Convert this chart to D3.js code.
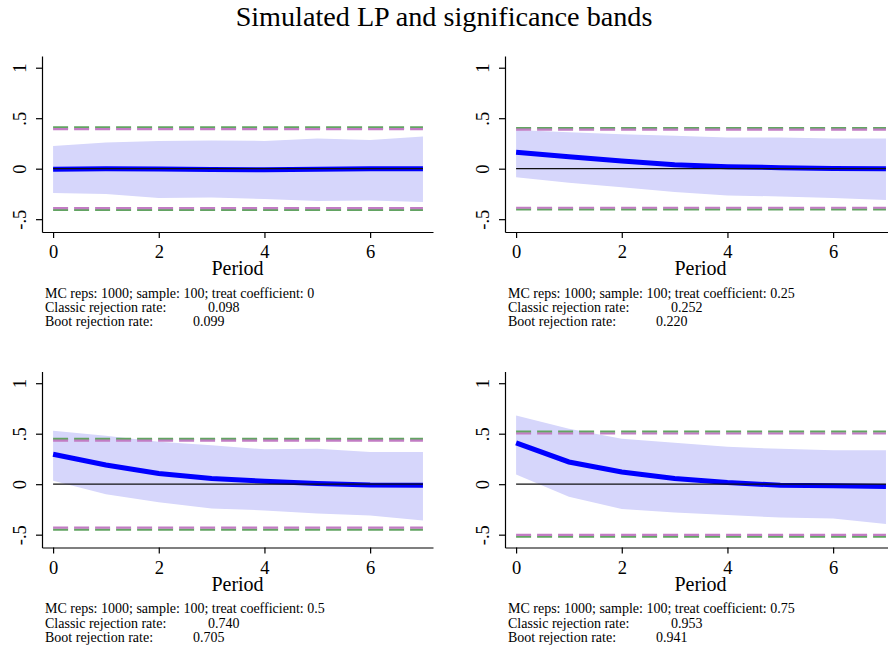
<!DOCTYPE html>
<html><head><meta charset="utf-8">
<script src="https://cdn.jsdelivr.net/npm/d3@7"></script>
<style>body{margin:0;background:#fff} svg{display:block} text{font-family:"Liberation Serif","Times New Roman",serif;fill:#000}</style>
</head><body><svg id="c" width="888" height="650"></svg>
<script>
const periods=[0,1,2,3,4,5,6,7];
const treatCoefs=["0","0.25","0.5","0.75"];
const lp_0=[-0.005,0.0,-0.004,-0.008,-0.01,-0.006,0.0,0.0];
const lp_25=[0.162,0.118,0.076,0.038,0.02,0.01,0.003,0.0];
const lp_50=[0.296,0.19,0.105,0.056,0.03,0.007,-0.008,-0.01];
const lp_75=[0.41,0.22,0.12,0.056,0.016,-0.01,-0.016,-0.023];
const upper_0=[0.225,0.26,0.275,0.28,0.275,0.30,0.285,0.32];
const lower_0=[-0.24,-0.25,-0.29,-0.285,-0.30,-0.32,-0.315,-0.33];
const upper_25=[0.384,0.36,0.34,0.325,0.31,0.31,0.30,0.30];
const lower_25=[-0.086,-0.14,-0.185,-0.23,-0.265,-0.275,-0.29,-0.31];
const upper_50=[0.53,0.48,0.42,0.385,0.345,0.35,0.32,0.32];
const lower_50=[0.033,-0.10,-0.18,-0.24,-0.26,-0.29,-0.31,-0.36];
const upper_75=[0.68,0.55,0.45,0.41,0.37,0.35,0.335,0.335];
const lower_75=[0.095,-0.125,-0.245,-0.28,-0.305,-0.33,-0.34,-0.395];
const classicCrit=[0.409,0.403,0.449,0.52];
const bootCrit=[0.391,0.387,0.431,0.502];
const classicRate=["0.098","0.252","0.740","0.953"];
const bootRate=["0.099","0.220","0.705","0.941"];
const xTickValues=[0,2,4,6];
const yTickValues=[-0.5,0,0.5,1];
const yTickLabels=["-.5","0",".5","1"];
const titleText="Simulated LP and significance bands";

const lps=[lp_0,lp_25,lp_50,lp_75];
const uppers=[upper_0,upper_25,upper_50,upper_75];
const lowers=[lower_0,lower_25,lower_50,lower_75];

const svg=d3.select("#c");
svg.append("rect").attr("width",888).attr("height",650).attr("fill","#fff");

function fitText(sel,target,start){
  sel.attr("font-size",start);
  const w=sel.node().getComputedTextLength();
  sel.attr("font-size",start*target/w);
  return start*target/w;
}

const title=svg.append("text").attr("x",444).attr("y",26).attr("text-anchor","middle").text(titleText);
fitText(title,417,23);

const layout=[{ox:0,oy:0},{ox:463,oy:0},{ox:0,oy:315.5},{ox:463,oy:315.5}];

const noteSize=14;

layout.forEach((p,i)=>{
  const g=svg.append("g");
  const x=d3.scaleLinear().domain([-0.21,7.19]).range([p.ox+42,p.ox+433]);
  const y=d3.scaleLinear().domain([-0.627,1.116]).range([p.oy+232,p.oy+56]);
  const rows=periods.map((t,k)=>({t,lp:lps[i][k],u:uppers[i][k],l:lowers[i][k]}));

  g.append("path").datum(rows).attr("fill","#d6d6fb")
    .attr("d",d3.area().x(d=>x(d.t)).y0(d=>y(d.l)).y1(d=>y(d.u)));

  [[classicCrit[i],"#62a462"],[bootCrit[i],"#c27cc4"]].forEach(([c,col])=>{
    [c,-c].forEach(v=>{
      g.append("line").attr("x1",x(0)).attr("x2",x(7)).attr("y1",y(v)).attr("y2",y(v))
        .attr("stroke",col).attr("stroke-width",2.2).attr("stroke-dasharray","15,6");
    });
  });

  g.append("path").datum(rows).attr("fill","none").attr("stroke","#0000ff").attr("stroke-width",5)
    .attr("d",d3.line().x(d=>x(d.t)).y(d=>y(d.lp)));

  g.append("line").attr("x1",x(0)).attr("x2",x(7)).attr("y1",y(0)).attr("y2",y(0))
    .attr("stroke","#111").attr("stroke-width",1.3);

  const ya=g.append("g").attr("transform",`translate(${p.ox+42},0)`)
    .call(d3.axisLeft(y).tickValues(yTickValues).tickFormat((d,k)=>yTickLabels[k]).tickSize(6).tickSizeOuter(0));
  ya.select(".domain").attr("stroke-width",1.2);
  ya.selectAll(".tick line").attr("stroke-width",1.2);
  ya.selectAll("text").attr("x",null).attr("dy",null).attr("font-size",18.5).attr("font-family",null)
    .attr("text-anchor","middle").attr("transform","translate(-16,0) rotate(-90)");

  const xa=g.append("g").attr("transform",`translate(0,${p.oy+232})`)
    .call(d3.axisBottom(x).tickValues(xTickValues).tickFormat(d3.format("d")).tickSize(6).tickSizeOuter(0));
  xa.select(".domain").attr("stroke-width",1.2);
  xa.selectAll(".tick line").attr("stroke-width",1.2);
  xa.selectAll("text").attr("y",26).attr("dy",null).attr("font-size",18.5).attr("font-family",null);

  const r=x.range();
  g.append("text").attr("x",(r[0]+r[1])/2).attr("y",p.oy+275).attr("text-anchor","middle")
    .attr("font-size",20).text("Period");

  const lx=p.ox+45;
  const note=g.append("text").attr("font-size",noteSize);
  note.append("tspan").attr("x",lx).attr("y",p.oy+297.5)
    .text("MC reps: 1000; sample: 100; treat coefficient: "+treatCoefs[i]);
  note.append("tspan").attr("x",lx).attr("y",p.oy+312).text("Classic rejection rate:");
  note.append("tspan").attr("x",p.ox+208).attr("y",p.oy+312).text(classicRate[i]);
  note.append("tspan").attr("x",lx).attr("y",p.oy+326).text("Boot rejection rate:");
  note.append("tspan").attr("x",p.ox+193).attr("y",p.oy+326).text(bootRate[i]);
});
</script></body></html>
